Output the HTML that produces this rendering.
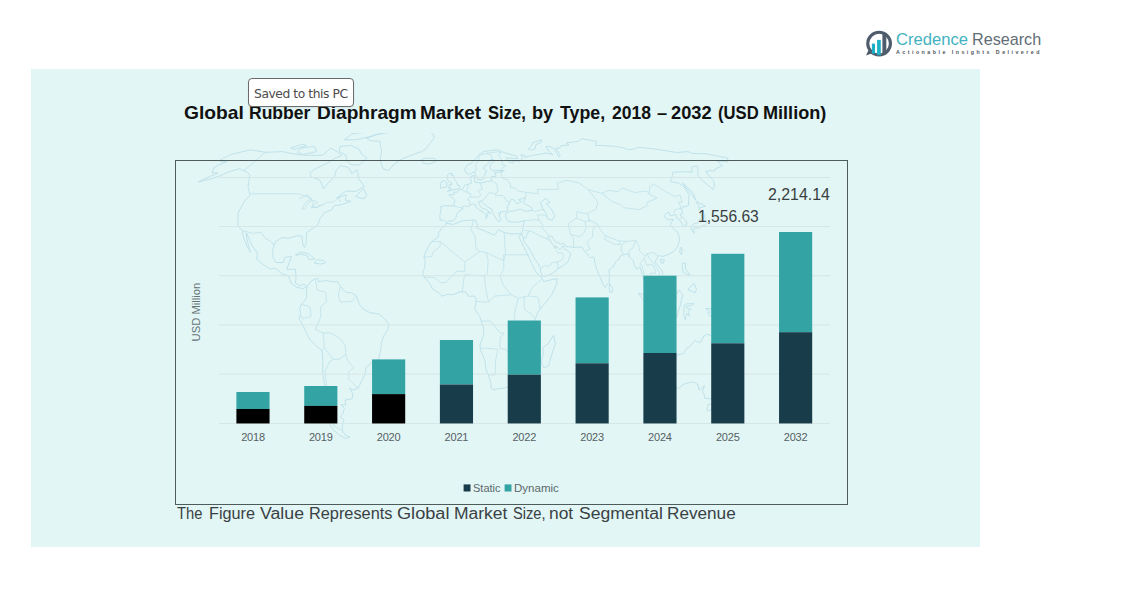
<!DOCTYPE html>
<html lang="en">
<head>
<meta charset="utf-8">
<title>Global Rubber Diaphragm Market Size</title>
<style>
html,body{margin:0;padding:0;background:#fff;}
body{width:1128px;height:596px;position:relative;overflow:hidden;font-family:"Liberation Sans","DejaVu Sans",sans-serif;}
.abs{position:absolute;white-space:nowrap;line-height:1;}
#panel{position:absolute;left:31px;top:69px;width:949px;height:478px;background:#e2f6f5;}
#frame{position:absolute;left:175px;top:160px;width:671px;height:343px;border:1px solid #4d5b5b;box-sizing:content-box;}
.yr{position:absolute;width:60px;text-align:center;font-size:11px;line-height:11px;color:#566064;top:431.5px;letter-spacing:-0.2px;}
.lgw{position:absolute;font:16.2px/20px 'Liberation Sans','DejaVu Sans',sans-serif;white-space:nowrap;transform-origin:0 0;}
.vw{position:absolute;font:15.8px/16px 'Liberation Sans','DejaVu Sans',sans-serif;color:#3a3f41;white-space:nowrap;transform-origin:0 0;}
.lw{position:absolute;font:10.6px/12px 'Liberation Sans','DejaVu Sans',sans-serif;color:#5c686c;white-space:nowrap;transform-origin:0 0;}
.tw{position:absolute;font:bold 17.8px/20px 'Liberation Sans','DejaVu Sans',sans-serif;color:#111;white-space:nowrap;transform-origin:0 0;}
.fw{position:absolute;font:16px/20px 'Liberation Sans','DejaVu Sans',sans-serif;color:#3a4144;white-space:nowrap;transform-origin:0 0;}
</style>
</head>
<body>
<div id="panel"></div>

<svg id="wmap" style="position:absolute;left:0;top:0" width="1128" height="596" viewBox="0 0 1128 596">
<defs><clipPath id="mc"><rect x="190" y="133" width="660" height="320"/></clipPath></defs>
<g clip-path="url(#mc)" fill="none" stroke="#bcdfe9" stroke-width="0.9" stroke-linejoin="round" opacity="1.0">
<path d="M220.3 159.9L231.1 154.4L250.4 149.8L265.4 152.3L282.5 151.6L296.6 154.4L305.2 155.3L322.8 155.3L330.6 148.1L338.5 152.5L341.8 155.3L333.6 159.0L328.1 162.8L315.3 168.7L309.8 173.3L311.3 176.8L319.9 180.3L322.1 185.1L323.4 189.0L328.0 183.0L334.4 176.8L336.2 170.7L340.0 165.7L346.2 166.7L349.6 168.7L351.7 173.7L357.3 170.1L358.8 178.8L364.2 186.2L355.7 191.5L345.8 191.1L336.6 198.1L346.2 194.8L345.2 200.2L350.9 201.3L341.2 204.7L333.9 205.8L331.8 209.8L324.7 212.5L320.4 218.1L317.6 224.9L306.5 232.9L306.3 243.3L304.6 247.4L302.6 243.3L302.1 236.4L296.9 235.7L289.1 238.2L282.0 237.5L275.0 242.1L272.7 250.2L272.9 257.2L275.9 262.5L283.3 262.5L285.3 257.2L291.5 256.5L288.7 264.1L286.8 269.3L295.5 269.3L296.1 278.2L295.3 282.9L299.9 285.8L303.8 284.1L307.0 286.5L302.7 288.8L296.1 286.9L291.2 282.9L288.4 275.9L281.1 273.5L276.1 268.4L269.5 268.8L262.7 264.1L256.9 259.5L257.4 253.0L252.0 245.6L248.6 237.5L246.1 232.9L247.1 239.8L249.4 249.5L250.7 252.5L247.2 246.7L244.4 239.8L243.0 235.2L242.4 230.6L238.2 226.1L238.0 220.4L238.2 212.5L245.2 200.2L250.1 195.2L249.2 191.5L248.0 187.3L248.8 181.5L249.9 174.7L247.6 172.7L243.9 170.7L239.2 168.7L230.2 171.7L226.3 172.7L220.1 175.8L210.9 178.8L202.7 180.9L198.0 182.0L211.5 175.8L218.0 173.1L212.1 172.7L214.0 167.7L219.7 164.4L227.0 161.8L220.3 161.8L220.3 159.9Z M366.6 138.3L376.2 134.6L387.3 132.7L405.4 131.5L422.6 130.9L433.0 133.3L434.0 138.3L430.3 142.9L426.6 148.1L421.7 151.6L411.0 155.3L401.1 159.4L393.5 164.8L388.5 170.7L383.1 168.7L380.9 162.8L380.5 157.1L381.7 151.6L380.6 146.4L380.1 141.4L370.6 140.6L366.6 138.3Z M350.9 145.5L358.8 149.0L362.1 154.4L367.1 158.1L359.2 164.8L351.8 164.8L346.6 160.9L346.1 155.3L339.2 151.6L340.0 146.4L350.9 145.5Z M301.0 148.1L314.5 146.4L316.7 151.6L303.4 154.4L297.2 152.5L301.0 148.1Z M344.4 139.8L356.4 139.8L369.3 136.7L383.9 132.7L371.6 131.5L351.7 133.9L344.4 139.8Z M290.8 148.1L302.1 144.2L306.7 145.5L294.1 149.5L290.8 148.1Z M307.0 286.5L311.7 280.6L317.7 278.2L318.4 281.7L325.2 280.6L332.8 281.7L337.7 281.7L340.4 286.5L346.0 292.4L351.8 292.9L356.5 296.0L359.3 304.3L363.2 309.1L370.0 312.7L378.7 313.9L384.6 318.7L388.5 323.5L388.1 329.4L384.0 335.4L381.4 342.6L380.8 349.8L378.5 359.4L372.0 362.2L365.9 367.7L365.2 373.7L361.8 380.9L358.2 388.1L353.1 390.0L349.5 388.1L352.9 394.0L352.1 398.8L345.2 400.0L345.4 404.8L341.0 404.8L344.3 408.3L342.8 414.2L340.1 416.6L344.1 420.1L342.3 425.9L342.4 430.5L345.3 435.1L349.9 437.3L345.6 438.5L339.3 435.1L332.8 429.3L328.0 421.2L327.3 411.9L325.2 402.4L323.4 395.2L324.8 385.7L322.6 373.7L322.9 361.7L322.1 350.5L316.6 346.2L310.3 340.2L307.0 334.2L302.7 324.6L299.1 318.7L300.7 312.7L299.7 309.1L301.3 304.3L303.6 301.9L306.6 297.2L306.5 290.0L307.0 286.5Z M446.1 223.1L453.2 224.5L462.5 220.8L475.4 219.9L477.5 224.9L476.1 227.7L485.2 231.1L494.5 235.2L498.4 229.9L504.2 232.5L511.9 234.1L518.1 233.6L521.7 233.6L518.8 236.8L524.4 247.9L528.8 257.2L532.1 264.1L535.4 271.2L541.6 277.7L543.7 281.7L549.6 280.1L557.1 278.7L556.6 284.1L551.8 294.8L546.1 301.9L540.2 309.1L537.1 313.9L534.1 322.3L534.9 328.2L536.8 333.0L536.8 342.6L529.2 349.3L525.1 354.6L525.6 362.9L520.5 367.7L519.6 374.9L514.8 380.9L509.6 385.7L504.7 388.1L498.1 388.5L494.3 390.0L491.2 388.1L490.9 383.3L488.4 374.9L485.8 368.9L485.0 360.5L480.3 349.8L480.0 345.0L483.5 335.4L483.6 328.2L481.2 321.1L479.7 316.3L474.7 309.1L475.7 304.3L476.1 298.3L474.1 296.0L468.8 296.4L465.8 291.9L459.9 291.9L452.9 294.8L448.0 294.3L442.0 296.2L438.1 292.4L432.2 288.8L430.2 284.1L427.3 280.6L424.0 277.0L422.6 271.9L424.6 267.7L425.3 260.6L423.9 257.2L425.9 251.4L429.0 245.6L432.0 241.4L437.8 237.5L438.5 232.9L441.9 228.3L445.7 224.9L446.1 223.1Z M553.6 335.4L555.4 343.8L553.2 349.8L548.5 366.1L543.6 367.7L541.1 361.7L543.2 354.6L543.0 347.4L548.1 343.8L551.1 339.0L553.6 335.4Z M440.2 220.4L439.8 215.8L441.0 209.1L440.7 206.4L447.0 205.6L453.7 206.0L454.8 200.2L451.7 197.0L448.7 195.0L454.3 194.3L453.8 192.2L457.2 192.2L459.6 189.6L462.9 188.5L464.8 185.1L468.6 184.1L471.4 183.0L470.4 176.8L474.0 175.4L475.0 182.2L480.3 183.0L487.6 181.5L491.7 180.9L491.1 176.8L496.3 176.2L494.5 172.7L501.4 171.7L504.4 170.7L496.4 170.3L492.5 170.7L490.3 168.7L490.0 164.8L494.6 160.9L492.7 159.4L489.9 159.9L488.9 162.8L484.1 166.7L483.6 168.7L486.7 170.7L483.7 176.8L483.2 178.8L480.5 179.9L478.0 179.9L474.9 173.7L473.6 171.7L469.8 174.5L466.0 173.1L464.7 168.7L466.9 165.4L472.1 162.8L476.2 158.1L479.4 154.4L484.0 151.6L489.5 150.7L496.3 149.8L500.9 151.1L504.2 152.7L517.0 156.2L517.9 158.6L508.8 158.1L505.8 158.1L509.1 161.8L513.3 163.0L513.4 160.9L517.2 160.9L518.2 161.8L522.5 159.0L520.8 154.7L524.7 155.3L524.8 157.5L534.3 154.9L541.5 154.0L546.0 152.9L552.9 154.7L549.1 151.6L545.7 146.7L549.1 146.4L554.4 149.0L558.9 157.1L560.3 155.3L555.9 148.1L559.5 148.1L561.2 145.5L568.9 145.0L566.4 142.9L578.4 141.4L582.0 138.7L596.4 141.4L595.6 145.5L602.5 145.5L615.4 146.4L624.0 148.1L628.9 149.8L634.2 149.0L638.1 147.3L654.9 149.0L674.2 152.1L677.6 152.5L687.9 151.6L692.2 153.4L706.0 153.8L727.8 158.1L727.7 161.8L717.1 160.9L722.5 165.7L715.5 168.7L714.9 170.7L705.7 171.1L708.3 174.7L713.7 180.9L714.5 185.1L713.0 189.4L702.8 180.9L698.0 175.8L697.9 168.7L697.3 165.7L691.4 167.3L692.3 172.1L685.4 171.7L672.9 172.1L671.6 178.8L670.3 181.5L678.5 183.0L684.1 186.8L689.1 194.8L688.9 199.2L688.3 205.8L683.0 206.9L681.4 208.4L682.7 213.6L679.8 214.7L685.8 220.4L687.1 224.5L683.4 226.3L680.2 220.4L676.8 218.1L675.8 214.5L670.2 215.8L668.4 211.8L664.0 215.8L667.4 219.7L673.5 219.7L671.0 222.6L670.4 225.4L677.3 232.2L679.2 236.4L679.5 241.0L677.5 246.7L673.9 251.4L668.0 254.4L662.9 256.5L659.1 255.5L656.1 259.5L655.2 262.3L661.8 270.0L663.6 278.2L659.7 281.7L656.2 285.8L655.7 282.5L652.1 280.6L650.9 277.7L647.5 274.9L646.3 278.2L645.4 284.6L648.1 290.0L653.6 297.2L655.5 303.4L654.1 303.4L649.9 299.8L647.9 293.6L643.9 287.7L644.1 281.7L641.4 271.2L640.0 266.9L636.8 269.3L634.4 265.3L633.3 260.6L629.1 256.7L627.7 253.7L623.3 254.8L619.9 256.5L619.0 259.5L616.7 260.6L612.5 267.4L608.9 270.0L609.4 275.4L609.1 282.2L606.3 285.5L605.1 287.4L602.7 283.4L599.5 275.9L596.6 268.8L594.7 261.8L594.0 257.2L592.8 257.2L590.2 257.6L587.1 254.1L584.0 250.4L581.9 247.0L573.5 247.4L565.6 246.3L563.8 243.3L560.9 244.2L554.8 241.2L551.5 235.9L549.0 236.4L548.2 237.5L552.4 244.0L555.6 249.0L555.4 245.6L560.1 249.7L563.2 245.6L564.5 249.0L568.6 251.4L570.8 253.9L567.9 261.8L563.5 265.3L558.0 268.8L552.3 273.5L545.5 276.3L542.1 276.3L540.7 271.2L540.3 267.2L534.8 259.0L532.6 254.8L528.7 247.9L523.9 241.0L523.2 237.5L521.7 233.6L522.8 229.5L523.9 222.6L523.7 220.8L517.4 222.4L513.6 222.0L510.8 222.2L507.5 220.4L505.7 217.0L505.7 213.6L509.6 211.4L514.1 210.9L520.2 209.1L526.0 211.4L532.1 210.2L531.6 207.6L527.6 205.3L523.7 203.1L524.5 200.2L525.6 197.6L518.6 199.8L521.6 201.8L517.0 203.8L514.7 200.7L511.8 198.9L509.6 201.8L508.3 205.1L507.0 208.0L508.1 210.7L504.7 211.6L500.6 211.8L500.4 213.6L498.5 212.7L500.2 218.1L501.2 218.8L499.6 221.5L498.3 221.3L496.2 218.8L492.4 212.5L492.2 209.6L487.5 206.9L483.6 203.6L481.1 200.9L478.7 201.8L479.2 204.7L482.2 208.4L485.8 209.3L490.7 213.1L487.9 212.5L487.4 215.8L486.4 218.1L485.9 218.1L486.2 214.7L483.3 212.0L479.2 209.8L475.8 207.1L475.1 204.7L472.4 203.8L470.3 205.1L468.0 206.7L464.4 205.8L462.5 206.9L462.7 209.3L458.5 211.4L456.4 214.7L456.0 217.4L453.2 220.8L448.6 221.1L446.7 222.6L445.2 221.3L443.2 219.9L440.2 220.4Z M447.4 191.5L451.8 190.0L459.1 189.0L459.8 185.8L457.4 185.1L456.6 182.0L454.3 179.9L453.7 175.4L451.2 175.4L452.1 173.5L448.9 173.5L447.2 175.8L447.8 179.9L448.9 181.5L451.9 183.0L451.9 184.5L449.3 184.7L449.8 186.6L448.1 187.7L451.3 188.5L447.4 191.5Z M446.7 186.8L446.9 183.0L444.5 180.5L440.2 183.0L440.7 188.3L446.7 186.8Z M421.3 159.9L424.5 158.2L434.6 158.4L436.6 160.9L429.4 164.0L422.8 163.2L421.3 159.9Z M690.7 228.3L694.1 233.4L693.7 227.9L699.1 228.1L701.5 226.1L705.0 225.4L707.3 223.3L704.6 217.4L704.8 214.3L701.2 210.5L699.9 212.2L702.2 217.0L699.0 220.4L698.4 222.6L693.8 223.8L691.4 226.5L690.7 228.3Z M699.2 210.2L700.2 207.6L705.7 206.2L702.9 204.7L696.3 201.6L698.8 206.2L699.2 210.2Z M695.7 200.2L693.6 193.7L687.4 187.3L682.8 183.0L685.6 187.3L690.9 193.7L695.7 200.2Z M638.5 293.3L642.7 294.3L648.1 300.7L654.2 309.1L658.7 313.9L658.1 320.6L654.8 319.9L649.4 312.7L645.2 302.6L638.5 293.3Z M657.1 323.0L663.0 322.7L667.7 322.3L674.1 325.1L673.6 327.5L662.0 325.4L657.1 323.0Z M664.4 303.1L668.2 302.6L671.8 299.1L676.4 294.8L678.9 290.0L682.9 294.8L681.2 300.7L680.7 304.8L678.5 310.3L677.4 316.3L674.6 316.3L669.0 313.9L666.3 310.3L664.4 303.1Z M684.1 305.5L686.9 303.8L694.0 303.6L690.7 305.7L686.0 306.7L687.8 309.1L691.2 308.9L688.1 311.5L689.5 316.3L686.8 313.4L685.3 319.9L683.9 315.1L684.1 305.5Z M705.6 308.6L711.2 308.6L713.9 314.6L718.7 310.5L724.3 312.9L731.2 316.0L736.0 321.1L737.2 325.8L742.1 331.6L735.3 330.2L729.7 325.1L726.4 328.7L719.7 325.8L718.3 319.9L711.0 316.0L708.8 314.6L707.4 313.2L710.2 312.2L705.6 308.6Z M682.3 263.0L685.5 263.2L685.3 268.8L690.7 275.9L686.7 274.0L683.4 272.3L682.3 268.8L682.3 263.0Z M688.2 290.0L690.7 286.2L694.3 283.6L696.5 289.3L694.9 293.1L692.0 291.2L688.2 290.0Z M680.4 247.4L682.2 248.3L681.5 254.8L679.7 252.3L680.4 247.4Z M609.6 283.6L613.1 288.8L611.8 292.4L609.9 292.4L609.2 287.7L609.6 283.6Z M660.7 259.5L664.4 259.9L663.1 263.4L660.5 262.3L660.7 259.5Z M669.0 359.4L667.2 368.9L665.8 380.9L663.6 388.8L668.0 390.5L672.3 388.1L678.5 388.1L684.3 384.0L690.3 382.3L694.3 382.1L698.2 385.0L698.9 390.0L701.8 388.1L704.5 385.7L702.5 391.7L704.1 394.5L704.7 398.1L710.0 398.8L713.7 400.0L718.2 397.4L722.8 395.7L727.3 390.0L733.0 384.2L738.7 374.9L740.1 367.7L737.4 362.9L735.1 360.1L732.6 353.4L730.0 351.7L730.3 342.6L727.9 340.9L727.3 334.9L726.0 332.5L723.5 337.8L722.1 345.0L718.6 349.1L714.7 345.0L711.4 342.6L714.6 336.1L711.3 335.9L706.9 334.2L703.8 336.1L700.7 342.1L697.6 342.1L695.0 340.2L690.5 345.7L685.7 349.3L683.8 353.4L679.0 354.6L674.1 356.5L669.0 359.4Z M708.3 404.3L714.6 404.5L711.1 409.5L707.5 410.9L706.9 408.3L708.3 404.3Z M295.4 254.8L301.2 252.0L308.5 253.9L315.1 259.0L308.8 259.7L307.3 256.0L301.0 253.9L297.1 255.3L295.4 254.8Z M314.1 263.0L317.3 259.7L323.3 260.4L325.8 262.7L320.7 264.1L314.1 263.0Z M528.2 149.0L531.3 145.9L532.5 142.9L541.4 139.8L541.2 142.2L535.9 144.7L534.9 149.0L530.7 150.2L528.2 149.0Z M355.8 196.5L363.4 188.3L366.5 194.8L364.6 198.7L360.5 198.1L355.8 196.5Z M540.4 202.4L545.8 198.5L550.1 202.4L546.3 203.6L551.4 209.1L554.6 215.8L552.4 220.4L548.0 219.2L546.1 213.6L542.4 208.0L540.4 202.4Z"/>
<path d="M251.0 193.7L296.7 193.7L305.5 195.9L311.5 199.2L313.4 202.4L311.4 208.0L317.8 206.9L324.1 204.0L326.9 202.4L333.4 202.0L338.6 197.2L340.3 202.0 M265.4 152.3L243.9 170.7 M242.4 230.6L252.6 233.4L261.0 232.2L265.5 238.7L270.4 241.0L274.3 245.6 M299.4 198.5L307.7 194.8L311.5 199.2L306.4 201.3L301.9 209.1L304.5 209.1L309.7 201.3L313.5 200.2L317.7 202.4L311.8 206.9L317.6 207.6L318.2 205.8L323.0 204.7 M322.1 350.5L324.3 347.4L323.3 333.0L315.4 329.4L320.7 317.0L320.6 306.7L326.5 301.9L325.7 292.4L317.1 290.0L315.6 280.6 M324.3 347.4L333.0 359.4L338.7 359.4L345.9 354.6L345.2 346.2L340.9 339.0L331.0 333.0L323.3 333.0 M333.0 359.4L329.5 361.7L325.0 371.3L326.6 385.7L328.2 400.0L332.3 416.6L333.9 425.9L342.4 430.5 M345.9 354.6L347.3 360.1L353.6 367.7L348.5 372.0L349.0 379.7L358.2 388.1 M340.4 286.5L338.2 294.8L340.0 301.9L345.8 301.9L351.6 301.2L356.5 296.0 M301.3 304.3L309.9 306.7L311.1 316.3L302.4 318.7L300.8 314.8 M440.2 241.6L447.6 247.9L458.8 257.2L464.7 261.8L480.1 251.4L486.0 252.5L503.7 260.6L503.5 254.8L528.7 254.8 M432.0 241.6L440.2 241.6L440.1 246.7L433.7 251.4L431.6 256.5L423.9 257.2 M473.6 220.4L471.0 229.5L475.0 236.4L476.2 249.0L480.1 251.4 M504.2 232.5L505.4 254.8L503.7 260.6L503.9 268.8L500.2 275.9L503.3 285.3L511.4 294.8L518.3 298.3L524.2 296.7L528.2 296.0L538.1 297.2L540.2 309.1 M486.0 252.5L488.1 259.5L487.4 273.5L484.4 275.9L485.6 287.7L488.6 301.9L482.7 301.9L476.1 301.4 M464.7 261.8L464.8 271.2L456.9 271.2L446.0 282.2L441.1 282.9L434.3 277.5L424.0 277.0 M462.4 291.9L463.8 278.9L464.8 274.7L484.4 275.9 M481.2 321.1L490.5 321.1L500.3 333.0L504.2 333.0L500.2 337.8L499.9 348.6L505.8 349.3L513.2 359.4L518.0 360.5L518.3 370.8 M480.0 348.1L484.3 348.3L493.1 348.6L497.9 349.8L495.7 359.4L495.1 374.9L488.4 374.9 M518.3 298.3L515.4 309.1L514.3 317.5L517.2 326.6L522.1 329.4L524.9 334.2L536.8 332.3 M524.2 296.7L524.3 309.1L531.2 313.9L534.5 317.9 M528.2 296.0L532.0 287.7L541.6 279.4 M511.4 294.8L494.5 296.0L492.6 298.3L488.6 301.9 M453.7 206.0L462.7 208.2 M461.2 189.4L467.3 192.6L470.8 193.7L470.0 197.0L467.5 199.8L469.3 200.5L470.3 205.1 M468.6 184.1L467.1 189.4L467.3 192.6 M480.3 183.0L482.2 189.4L477.8 190.9L480.9 194.3L479.6 197.0L473.5 197.0L470.0 197.0 M481.1 200.9L485.5 198.5L486.5 195.9L489.4 192.6L495.9 193.7L498.0 190.5L496.1 183.0L491.7 180.9 M495.9 193.7L495.4 195.7L503.0 195.4L506.9 201.3L509.6 201.8 M501.4 171.7L501.4 175.8L503.1 178.6L507.6 179.7L510.5 184.1L510.3 187.3L515.0 188.1L517.9 190.9L525.9 192.4L526.2 196.3L524.0 197.6 M492.7 159.4L491.2 155.3L486.4 153.4L496.8 151.8L501.3 152.5L498.3 154.9L501.9 159.9L502.3 164.8L505.6 165.7L501.0 169.7 M474.8 172.9L476.2 168.7L475.4 163.8L478.1 161.8L479.5 155.3L486.4 153.4 M525.9 192.4L538.3 193.7L537.2 189.4L549.5 189.4L558.8 189.4L557.2 183.0L567.2 180.3L579.0 183.0L588.5 189.8L601.8 193.3 M601.8 193.3L608.0 190.5L618.3 191.5L622.7 188.3L635.0 192.6L643.7 191.1L649.4 192.4L649.8 186.2L653.7 184.1L665.7 191.5L674.4 196.5L680.2 195.0L682.0 202.4L678.7 202.4L681.4 208.4 M601.8 193.3L611.6 201.3L620.6 204.7L623.5 207.6L638.8 209.6L647.1 205.8L647.1 202.4L657.2 198.1L648.8 194.1L649.4 192.4 M588.5 189.8L597.8 202.0L596.2 209.1L587.7 213.6L589.2 220.4L597.3 223.8L600.8 230.6L605.6 235.9L619.2 241.0L626.5 241.4L635.8 240.5L640.0 247.9L638.7 250.4L645.4 256.0L646.9 253.7L653.1 252.5L658.2 256.0 M587.7 213.6L581.7 212.9L577.0 211.4L576.3 218.1L568.4 223.8L570.3 234.1L573.5 237.5L573.5 247.4 M576.3 218.1L584.8 221.5L590.9 220.4L589.2 220.4 M570.3 234.1L580.0 236.8L584.6 231.8L586.2 227.2L584.8 221.5 M585.3 250.9L590.1 249.0L586.9 242.8L592.5 236.6L592.8 229.9L595.9 224.9 M537.5 214.7L544.7 215.2L546.6 217.2 M537.5 214.7L539.3 220.4L542.9 224.9L542.4 228.3L547.8 234.1L549.0 236.4 M523.7 220.8L534.6 219.7L539.3 220.4 M532.1 210.2L536.0 211.4L541.0 209.6L544.4 209.6 M524.2 230.2L530.5 231.1L536.6 234.1L545.6 238.4L548.2 237.5 M530.5 231.1L527.0 232.9L526.5 237.5L523.7 238.0 M545.6 238.4L547.6 239.8L549.4 239.8 M558.0 268.8L557.5 261.8L562.7 259.5L563.6 254.8L562.5 253.2L557.7 252.7L555.9 250.2 M541.7 267.7L544.9 265.5L548.9 266.5L552.2 262.7L557.5 261.8 M619.2 241.0L620.2 244.6L614.4 244.2L604.8 239.3L605.6 235.9 M626.5 241.4L623.0 244.0L621.7 244.9L621.0 249.0L623.3 254.8 M629.1 256.7L629.2 250.2L632.4 248.6L635.8 240.5 M644.1 281.7L644.1 273.5L642.5 267.7L640.0 263.0L644.0 258.8L645.4 256.0 M644.0 258.8L646.8 265.3L652.1 264.1L655.9 271.2L655.2 273.5L650.5 273.0L650.9 277.7 M646.9 253.7L649.5 258.3L653.8 263.0L659.7 272.3L657.3 280.6L655.1 282.0 M673.8 213.6L674.5 209.6L677.6 209.1L681.4 208.4 M679.5 218.8L682.2 216.8 M665.5 301.9L670.1 303.6L674.7 303.1L677.0 296.4 M724.3 312.9L723.4 328.7 M647.4 291.2L649.2 292.9L651.2 291.9" stroke-width="0.72"/>
</g>
</svg>
<!-- logo -->
<svg class="abs" style="left:860px;top:25px" width="40" height="37" viewBox="0 0 40 37">
  <circle cx="19.1" cy="18.6" r="11.35" fill="none" stroke="#4e5c6b" stroke-width="3.1"/>
  <path d="M8.4 25.2 L6.0 30.6 L11.8 28.4 Z" fill="#4e5c6b"/>
  <rect x="22.4" y="8.5" width="3.9" height="19.5" fill="#4e5c6b"/>
  <rect x="11.9" y="18.6" width="3.1" height="10" fill="#1db0c6"/>
  <rect x="17.1" y="14.9" width="3.7" height="15.3" fill="#1db0c6"/>
</svg>
<div id="lg1">
<span class="lgw" style="left:895.93px;top:29.20px;transform:scaleX(1.0255);color:#43b2c0">Credence</span>
<span class="lgw" style="left:972.35px;top:29.20px;transform:scaleX(0.9985);color:#626d76">Research</span>
</div>
<div class="abs" id="lg2" style="left:896.3px;top:49.2px;font-size:10.6px;line-height:11px;font-weight:bold;color:#50555b;letter-spacing:4.95px;transform:scale(0.5);transform-origin:0 0;">Actionable Insights Delivered</div>

<!-- title -->
<div id="title">
<span class="tw" style="left:184.49px;top:102.60px;transform:scaleX(1.0798)">Global</span>
<span class="tw" style="left:249.17px;top:102.60px;transform:scaleX(0.9860)">Rubber</span>
<span class="tw" style="left:316.56px;top:102.60px;transform:scaleX(1.0729)">Diaphragm</span>
<span class="tw" style="left:420.47px;top:102.60px;transform:scaleX(1.0673)">Market</span>
<span class="tw" style="left:487.83px;top:102.60px;transform:scaleX(0.9368)">Size,</span>
<span class="tw" style="left:531.92px;top:102.60px;transform:scaleX(1.0234)">by</span>
<span class="tw" style="left:559.65px;top:102.60px;transform:scaleX(0.9989)">Type,</span>
<span class="tw" style="left:611.51px;top:102.60px;transform:scaleX(0.9870)">2018</span>
<span class="tw" style="left:656.59px;top:102.60px;transform:scaleX(1.0222)">&#8211;</span>
<span class="tw" style="left:671.09px;top:102.60px;transform:scaleX(1.0260)">2032</span>
<span class="tw" style="left:718.00px;top:102.60px;transform:scaleX(0.9357)">(USD</span>
<span class="tw" style="left:763.33px;top:102.60px;transform:scaleX(1.0174)">Million)</span>
</div>

<!-- tooltip -->
<div class="abs" id="tip" style="left:248px;top:78px;width:104px;height:27px;border:1px solid #6b6b6b;border-radius:4px;background:#fff;box-shadow:0 1px 2px rgba(0,0,0,.07);"></div>
<div class="abs" id="tiptx" style="left:254px;top:86.5px;font-size:12.3px;line-height:14px;color:#4c4c4c;font-family:'DejaVu Sans','Liberation Sans',sans-serif;letter-spacing:-0.43px;">Saved to this PC</div>

<!-- chart -->
<div id="frame"></div>

<div id="bars">
<svg id="chart" style="position:absolute;left:0;top:0" width="1128" height="596" viewBox="0 0 1128 596">
<rect x="219" y="177.00" width="611" height="1" fill="#d6e5e5"/>
<rect x="219" y="226.10" width="611" height="1" fill="#d6e5e5"/>
<rect x="219" y="275.20" width="611" height="1" fill="#d6e5e5"/>
<rect x="219" y="324.40" width="611" height="1" fill="#d6e5e5"/>
<rect x="219" y="373.60" width="611" height="1" fill="#d6e5e5"/>
<rect x="219" y="423.10" width="611" height="1" fill="#d6e5e5"/>
<rect x="236.40" y="392.00" width="33.15" height="17.00" fill="#33a3a4"/>
<rect x="236.40" y="409.00" width="33.15" height="14.45" fill="#000"/>
<rect x="304.23" y="386.00" width="33.15" height="19.85" fill="#33a3a4"/>
<rect x="304.23" y="405.85" width="33.15" height="17.60" fill="#000"/>
<rect x="372.06" y="359.40" width="33.15" height="34.70" fill="#33a3a4"/>
<rect x="372.06" y="394.10" width="33.15" height="29.35" fill="#000"/>
<rect x="439.89" y="340.00" width="33.15" height="44.50" fill="#33a3a4"/>
<rect x="439.89" y="384.50" width="33.15" height="38.95" fill="#193c4b"/>
<rect x="507.72" y="320.50" width="33.15" height="54.20" fill="#33a3a4"/>
<rect x="507.72" y="374.70" width="33.15" height="48.75" fill="#193c4b"/>
<rect x="575.55" y="297.40" width="33.15" height="65.90" fill="#33a3a4"/>
<rect x="575.55" y="363.30" width="33.15" height="60.15" fill="#193c4b"/>
<rect x="643.38" y="275.70" width="33.15" height="77.30" fill="#33a3a4"/>
<rect x="643.38" y="353.00" width="33.15" height="70.45" fill="#193c4b"/>
<rect x="711.21" y="253.80" width="33.15" height="89.50" fill="#33a3a4"/>
<rect x="711.21" y="343.30" width="33.15" height="80.15" fill="#193c4b"/>
<rect x="779.04" y="232.00" width="33.15" height="100.20" fill="#33a3a4"/>
<rect x="779.04" y="332.20" width="33.15" height="91.25" fill="#193c4b"/>
<rect x="463.6" y="484.4" width="6.9" height="7.1" fill="#193c4b"/>
<rect x="504.6" y="484.4" width="6.9" height="7.1" fill="#33a3a4"/>
</svg>
<div class="yr" style="left:222.97px">2018</div>
<div class="yr" style="left:290.81px">2019</div>
<div class="yr" style="left:358.63px">2020</div>
<div class="yr" style="left:426.46px">2021</div>
<div class="yr" style="left:494.30px">2022</div>
<div class="yr" style="left:562.12px">2023</div>
<div class="yr" style="left:629.96px">2024</div>
<div class="yr" style="left:697.79px">2025</div>
<div class="yr" style="left:765.62px">2032</div>
</div>

<div class="abs" id="ylab" style="left:195.8px;top:311.6px;font-size:11.25px;line-height:12px;color:#667377;transform:translate(-50%,-50%) rotate(-90deg);">USD Million</div>

<div id="vals">
<span class="vw" style="left:698.36px;top:208.90px;transform:scaleX(0.9882);">1,556.63</span>
<span class="vw" style="left:768.15px;top:187.30px;transform:scaleX(1.0058);">2,214.14</span>
</div>

<!-- legend -->
<div id="legend">
<span class="lw" style="left:473.38px;top:481.70px;transform:scaleX(1.0408);">Static</span>
<span class="lw" style="left:514.28px;top:481.70px;transform:scaleX(1.0882);">Dynamic</span>
</div>

<!-- footnote -->
<div id="foot">
<span class="fw" style="left:177.27px;top:503.90px;transform:scaleX(0.9196)">The</span>
<span class="fw" style="left:208.53px;top:503.90px;transform:scaleX(1.0138)">Figure</span>
<span class="fw" style="left:260.00px;top:503.90px;transform:scaleX(1.1077)">Value</span>
<span class="fw" style="left:309.03px;top:503.90px;transform:scaleX(1.0200)">Represents</span>
<span class="fw" style="left:396.75px;top:503.90px;transform:scaleX(1.1348)">Global</span>
<span class="fw" style="left:453.53px;top:503.90px;transform:scaleX(1.0926)">Market</span>
<span class="fw" style="left:513.01px;top:503.90px;transform:scaleX(0.9164)">Size,</span>
<span class="fw" style="left:549.21px;top:503.90px;transform:scaleX(1.0871)">not</span>
<span class="fw" style="left:578.88px;top:503.90px;transform:scaleX(1.0970)">Segmental</span>
<span class="fw" style="left:667.26px;top:503.90px;transform:scaleX(1.0726)">Revenue</span>
</div>

</body>
</html>
